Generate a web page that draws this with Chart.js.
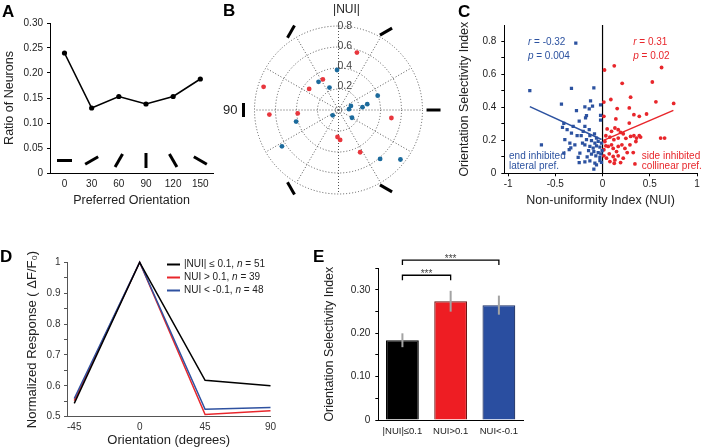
<!DOCTYPE html>
<html>
<head>
<meta charset="utf-8">
<script src="https://cdn.jsdelivr.net/npm/chart.js@4.4.1/dist/chart.umd.min.js"></script>
<style>
  body { margin: 0; background: #fff; }
  #fig { position: relative; width: 702px; height: 448px; overflow: hidden; font-family: "Liberation Sans", Arial, sans-serif; }
  .panel { position: absolute; }
  .tag { position: absolute; font-weight: bold; font-size: 17px; line-height: 17px; color: #000; }
</style>
</head>
<body>
<div id="fig">
  <canvas id="chartA" class="panel" width="225" height="215" style="left:0;top:0"></canvas>
  <canvas id="chartB" class="panel" width="260" height="220" style="left:200px;top:0"></canvas>
  <canvas id="chartC" class="panel" width="247" height="215" style="left:455px;top:0"></canvas>
  <canvas id="chartD" class="panel" width="320" height="208" style="left:0;top:240px"></canvas>
  <canvas id="chartE" class="panel" width="220" height="208" style="left:320px;top:240px"></canvas>
  <div class="tag" style="left:2px;top:3px">A</div>
  <div class="tag" style="left:223px;top:2px">B</div>
  <div class="tag" style="left:458px;top:3px">C</div>
  <div class="tag" style="left:0;top:248px">D</div>
  <div class="tag" style="left:313px;top:248px">E</div>
</div>
<script>
// ---- data ----
// A: distribution of preferred orientation
const orientations = [0, 30, 60, 90, 120, 150];
const ratioNeurons = [0.24, 0.13, 0.153, 0.138, 0.153, 0.188];
const ratioTicks = [0, 0.05, 0.10, 0.15, 0.20, 0.25, 0.30];

// B: |NUI| vs. polar angle (2 x preferred orientation)
const ringValues = [0.2, 0.4, 0.6, 0.8];
const spokeAngles = [0, 30, 60, 90, 120, 150, 180, 210, 240, 270, 300, 330];
const bRedAngle = [73, 116, 143, 162, 184, 185, 268, 273, 296, 351];
const bRedNui = [0.60, 0.34, 0.35, 0.75, 0.66, 0.39, 0.27, 0.30, 0.47, 0.51];
const bBlueAngle = [92, 124, 111, 21, 12, 7, 19, 5, 329, 224, 196, 214, 309, 320];
const bBlueNui = [0.40, 0.34, 0.24, 0.40, 0.28, 0.23, 0.125, 0.10, 0.15, 0.077, 0.42, 0.65, 0.63, 0.77];

// C: OSI vs NUI  [NUI, OSI]
const endInhibited = [
  [-0.283, 0.790], [-0.770, 0.501], [-0.329, 0.515], [-0.092, 0.519], [-0.435, 0.420], [-0.647, 0.173],
  [-0.276, 0.381], [-0.187, 0.403], [-0.127, 0.440], [-0.106, 0.407], [-0.141, 0.391], [-0.021, 0.415],
  [-0.170, 0.350], [-0.180, 0.336], [-0.021, 0.352], [-0.021, 0.322], [-0.247, 0.316], [-0.410, 0.303],
  [-0.424, 0.279], [-0.375, 0.265], [-0.329, 0.244], [-0.269, 0.228], [-0.226, 0.228], [-0.205, 0.255],
  [-0.141, 0.265], [-0.399, 0.204], [-0.134, 0.228], [-0.085, 0.240], [-0.064, 0.214], [-0.117, 0.198],
  [-0.081, 0.183], [-0.046, 0.193], [-0.170, 0.204], [-0.187, 0.173], [-0.134, 0.163], [-0.099, 0.153],
  [-0.064, 0.167], [-0.028, 0.159], [-0.011, 0.183], [-0.148, 0.138], [-0.092, 0.132], [-0.046, 0.126],
  [-0.018, 0.118], [-0.071, 0.106], [-0.117, 0.116], [-0.028, 0.096], [-0.005, 0.138], [-0.353, 0.143],
  [-0.336, 0.155], [-0.410, 0.122], [-0.240, 0.122], [-0.258, 0.096], [-0.163, 0.100], [-0.247, 0.065],
  [-0.187, 0.069], [-0.134, 0.075], [-0.081, 0.061], [-0.064, 0.051], [-0.092, 0.026], [-0.028, 0.077],
  [-0.011, 0.067], [-0.346, 0.183], [-0.293, 0.173], [-0.212, 0.183], [-0.187, 0.285], [-0.311, 0.285]
];
const sideInhibited = [
  [0.021, 0.627], [0.124, 0.652], [0.625, 0.642], [0.208, 0.546], [0.527, 0.554], [0.014, 0.432],
  [0.088, 0.448], [0.297, 0.462], [0.155, 0.393], [0.283, 0.397], [0.565, 0.434], [0.753, 0.424],
  [0.014, 0.346], [0.141, 0.330], [0.332, 0.356], [0.389, 0.346], [0.466, 0.360], [0.283, 0.305],
  [0.049, 0.269], [0.095, 0.255], [0.131, 0.275], [0.166, 0.265], [0.191, 0.248], [0.219, 0.240],
  [0.297, 0.224], [0.332, 0.228], [0.360, 0.214], [0.389, 0.228], [0.403, 0.220], [0.353, 0.193],
  [0.247, 0.212], [0.615, 0.214], [0.657, 0.214], [0.035, 0.228], [0.078, 0.220], [0.120, 0.204],
  [0.166, 0.214], [0.025, 0.193], [0.060, 0.163], [0.113, 0.151], [0.166, 0.163], [0.148, 0.132],
  [0.014, 0.143], [0.035, 0.167], [0.290, 0.173], [0.237, 0.151], [0.325, 0.126], [0.205, 0.173],
  [0.071, 0.118], [0.113, 0.102], [0.131, 0.081], [0.166, 0.106], [0.078, 0.071], [0.124, 0.061],
  [0.042, 0.092], [0.014, 0.106], [0.343, 0.057], [0.219, 0.092], [0.261, 0.126], [0.191, 0.065],
  [0.095, 0.173]
];
const endFit = [[-0.77, 0.405], [-0.01, 0.205]];
const sideFit = [[0.01, 0.200], [0.75, 0.382]];
const nuiTicks = [-1, -0.5, 0, 0.5, 1];
const osiTicksC = [0, 0.1, 0.2, 0.3, 0.4, 0.5, 0.6, 0.7, 0.8];

// D: normalized tuning curves
const dAngles = [-45, 0, 45, 90];
const respFlat = [0.543, 1.0, 0.618, 0.600];
const respPos = [0.552, 1.0, 0.507, 0.519];
const respNeg = [0.559, 1.0, 0.524, 0.530];
const respTicks = [0.5, 0.55, 0.6, 0.65, 0.7, 0.75, 0.8, 0.85, 0.9, 0.95, 1];
const groupLabels = ['|NUI| \u2264 0.1, ', 'NUI > 0.1, ', 'NUI < -0.1, '];
const groupN = [51, 39, 48];

// E: mean OSI per group
const eLabels = ['|NUI|\u22640.1', 'NUI>0.1', 'NUI<-0.1'];
const osiMean = [0.184, 0.274, 0.265];
const osiSem = [0.016, 0.024, 0.022];
const osiTicksE = [0, 0.05, 0.1, 0.15, 0.2, 0.25, 0.3, 0.35];
const sigPairs = [[0, 1, 0.334], [0, 2, 0.369]];
const sigLabels = ['***', '***'];

// ---- look ----
const FONT = '"Liberation Sans", Arial, Helvetica, sans-serif';
const RED = '#e8262b', BLUE = '#2c52a0';
const glyphLevel = 0.025;   // y of the orientation bars in A
const glyphRadius = 0.905;  // radius of the orientation bars in B

Chart.defaults.font.family = FONT;
Chart.defaults.font.size = 10;
Chart.defaults.color = '#222';
Chart.defaults.animation = false;
Chart.defaults.responsive = false;
Chart.defaults.plugins.legend.display = false;
Chart.defaults.plugins.tooltip.enabled = false;

const fitW = w => s => { s.width = w; };
const fitH = h => s => { s.height = h; };
const setTicks = vals => s => { s.ticks = vals.map(v => ({ value: v })); };
const xy = (xs, ys) => xs.map((v, i) => ({ x: v, y: ys[i] }));
const pairs = arr => arr.map(p => ({ x: p[0], y: p[1] }));
const polar = (angles, radii) => angles.map((a, i) => ({
  x: radii[i] * Math.cos(a * Math.PI / 180),
  y: radii[i] * Math.sin(a * Math.PI / 180)
}));

function richText(ctx, parts, x, y, size, color) {
  ctx.save();
  ctx.fillStyle = color;
  ctx.textBaseline = 'middle';
  ctx.textAlign = 'left';
  parts.forEach(([t, italic]) => {
    ctx.font = (italic ? 'italic ' : '') + size + 'px ' + FONT;
    ctx.fillText(t, x, y);
    x += ctx.measureText(t).width;
  });
  ctx.restore();
}

// ---- A ----
new Chart(document.getElementById('chartA'), {
  type: 'scatter',
  data: {
    datasets: [{
      data: xy(orientations, ratioNeurons),
      showLine: true, borderColor: '#000', borderWidth: 1.6,
      pointRadius: 2.6, pointBackgroundColor: '#000', pointBorderWidth: 0
    }, {
      data: orientations.map(o => ({ x: o, y: glyphLevel })),
      pointStyle: 'line', pointRadius: 7.5, pointBorderWidth: 3, pointBorderColor: '#000',
      pointRotation: orientations.map(o => -o), clip: false
    }]
  },
  options: {
    layout: { padding: { top: 23, right: 12 } },
    scales: {
      x: {
        type: 'linear', min: -16, max: 164,
        afterBuildTicks: setTicks(orientations), afterFit: fitH(42),
        grid: { display: false, drawTicks: false }, border: { color: '#000' },
        ticks: { padding: 5 },
        title: { display: true, text: 'Preferred Orientation', font: { size: 12.5 }, padding: { top: 0, bottom: 7 } }
      },
      y: {
        min: 0, max: 0.3,
        afterBuildTicks: setTicks(ratioTicks), afterFit: fitW(50),
        grid: { drawOnChartArea: false, tickLength: 3, color: '#000' }, border: { color: '#000' },
        ticks: { padding: 4, callback: v => v === 0 ? '0' : v.toFixed(2) },
        title: { display: true, text: 'Ratio of Neurons', font: { size: 12.5 }, padding: { top: 2, bottom: 0 } }
      }
    }
  }
});

// ---- B ----
const polarGrid = {
  id: 'polarGrid',
  beforeDatasetsDraw(chart) {
    const { ctx, scales: { x, y } } = chart;
    const cx = x.getPixelForValue(0), cy = y.getPixelForValue(0);
    const rpx = v => x.getPixelForValue(v) - cx;
    ctx.save();
    ctx.strokeStyle = '#555';
    ctx.lineWidth = 1;
    ctx.setLineDash([1, 2]);
    [0.03].concat(ringValues).forEach(r => {
      ctx.beginPath();
      ctx.arc(cx, cy, rpx(r), 0, Math.PI * 2);
      ctx.stroke();
    });
    const outer = rpx(ringValues[ringValues.length - 1]);
    spokeAngles.forEach(a => {
      const t = a * Math.PI / 180;
      ctx.beginPath();
      ctx.moveTo(cx, cy);
      ctx.lineTo(cx + outer * Math.cos(t), cy - outer * Math.sin(t));
      ctx.stroke();
    });
    ctx.restore();
  },
  afterDatasetsDraw(chart) {
    const { ctx, scales: { x, y } } = chart;
    const cx = x.getPixelForValue(0), cy = y.getPixelForValue(0);
    ctx.save();
    ctx.fillStyle = '#444';
    ctx.font = '10.5px ' + FONT;
    ctx.textAlign = 'left';
    ctx.textBaseline = 'middle';
    ringValues.forEach(r => ctx.fillText(r.toFixed(1), cx - 1, y.getPixelForValue(r) - 3.5));
    ctx.fillStyle = '#222';
    ctx.font = '12px ' + FONT;
    ctx.textAlign = 'center';
    ctx.fillText('|NUI|', cx + 8, 10);
    ctx.font = '13px ' + FONT;
    ctx.textAlign = 'right';
    ctx.fillText('90', x.getPixelForValue(-glyphRadius) - 6, cy);
    ctx.restore();
  }
};

new Chart(document.getElementById('chartB'), {
  type: 'scatter',
  data: {
    datasets: [{
      data: polar(bRedAngle, bRedNui),
      pointRadius: 2.4, pointBackgroundColor: '#e8363d', pointBorderWidth: 0
    }, {
      data: polar(bBlueAngle, bBlueNui),
      pointRadius: 2.4, pointBackgroundColor: '#1b6a9c', pointBorderWidth: 0
    }, {
      data: polar(orientations.map(o => 2 * o), orientations.map(() => glyphRadius)),
      pointStyle: 'line', pointRadius: 7, pointBorderWidth: 3, pointBorderColor: '#000',
      pointRotation: orientations.map(o => -o), clip: false
    }]
  },
  options: {
    layout: { padding: { left: 33.5, right: 16.5, top: 4, bottom: 6 } },
    scales: {
      x: { display: false, min: -1, max: 1 },
      y: { display: false, min: -1, max: 1 }
    }
  },
  plugins: [polarGrid]
});

// ---- C ----
const zeroLineC = {
  id: 'zeroLineC',
  beforeDatasetsDraw(chart) {
    const { ctx, chartArea, scales: { x } } = chart;
    const px = x.getPixelForValue(0);
    ctx.save();
    ctx.strokeStyle = '#000';
    ctx.lineWidth = 1.2;
    ctx.beginPath();
    ctx.moveTo(px, chartArea.top);
    ctx.lineTo(px, chartArea.bottom);
    ctx.stroke();
    ctx.restore();
  }
};
const notesC = {
  id: 'notesC',
  afterDatasetsDraw(chart) {
    const { ctx, scales: { x, y } } = chart;
    const put = (parts, vx, vy, color) => richText(ctx, parts, x.getPixelForValue(vx), y.getPixelForValue(vy), 10, color);
    put([['r', true], [' = -0.32']], -0.79, 0.795, BLUE);
    put([['p', true], [' = 0.004']], -0.79, 0.713, BLUE);
    put([['r', true], [' = 0.31']], 0.325, 0.795, RED);
    put([['p', true], [' = 0.02']], 0.325, 0.713, RED);
    put([['end inhibited']], -0.99, 0.106, BLUE);
    put([['lateral pref.']], -0.99, 0.040, BLUE);
    put([['side inhibited']], 0.416, 0.106, RED);
    put([['collinear pref.']], 0.416, 0.040, RED);
  }
};

new Chart(document.getElementById('chartC'), {
  type: 'scatter',
  data: {
    datasets: [{
      data: pairs(endInhibited),
      pointStyle: 'rect', pointRadius: 2.3, pointBackgroundColor: BLUE, pointBorderWidth: 0
    }, {
      data: pairs(sideInhibited),
      pointStyle: 'circle', pointRadius: 1.9, pointBackgroundColor: RED, pointBorderWidth: 0
    }, {
      data: pairs(endFit), showLine: true, borderColor: BLUE, borderWidth: 1.5, pointRadius: 0
    }, {
      data: pairs(sideFit), showLine: true, borderColor: RED, borderWidth: 1.5, pointRadius: 0
    }]
  },
  options: {
    layout: { padding: { top: 25, right: 5 } },
    scales: {
      x: {
        type: 'linear', min: -1.04, max: 1,
        afterBuildTicks: setTicks(nuiTicks), afterFit: fitH(41.7),
        grid: { drawOnChartArea: false, tickLength: 3, color: '#000' }, border: { color: '#000' },
        ticks: { padding: 2, callback: v => String(v) },
        title: { display: true, text: 'Non-uniformity Index (NUI)', font: { size: 12.5 }, padding: { top: 0, bottom: 7 } }
      },
      y: {
        min: 0, max: 0.9,
        afterBuildTicks: setTicks(osiTicksC), afterFit: fitW(49.3),
        grid: { drawOnChartArea: false, tickLength: 3, color: '#000' }, border: { color: '#000' },
        ticks: { padding: 5, callback: (v, i) => i % 2 ? '' : (v === 0 ? '0' : v.toFixed(1)) },
        title: { display: true, text: 'Orientation Selectivity Index', font: { size: 12.5 }, padding: { top: 2.5, bottom: 0 } }
      }
    }
  },
  plugins: [zeroLineC, notesC]
});

// ---- D ----
const dColors = ['#000', RED, '#2e51a0'];
const legendD = {
  id: 'legendD',
  afterDraw(chart) {
    const { ctx } = chart;
    groupLabels.forEach((label, i) => {
      const yy = 24.5 + i * 13;
      ctx.save();
      ctx.strokeStyle = dColors[i];
      ctx.lineWidth = 2;
      ctx.beginPath();
      ctx.moveTo(167, yy);
      ctx.lineTo(180, yy);
      ctx.stroke();
      ctx.restore();
      richText(ctx, [[label], ['n', true], [' = ' + groupN[i]]], 184, yy, 10, '#222');
    });
  }
};

new Chart(document.getElementById('chartD'), {
  type: 'line',
  data: {
    datasets: [
      { data: xy(dAngles, respFlat), borderColor: dColors[0], borderWidth: 1.5, pointRadius: 0, clip: false },
      { data: xy(dAngles, respNeg), borderColor: dColors[2], borderWidth: 1.5, pointRadius: 0, clip: false },
      { data: xy(dAngles, respPos), borderColor: dColors[1], borderWidth: 1.5, pointRadius: 0, clip: false }
    ]
  },
  options: {
    layout: { padding: { top: 22.3, right: 49.5 } },
    scales: {
      x: {
        type: 'linear', min: -50, max: 90,
        afterBuildTicks: setTicks(dAngles), afterFit: fitH(31.3),
        grid: { display: false, drawTicks: false }, border: { color: '#555' },
        ticks: { padding: 5, color: '#333' },
        title: { display: true, text: 'Orientation (degrees)', font: { size: 13 }, padding: { top: 0, bottom: 0 } }
      },
      y: {
        min: 0.5, max: 1,
        afterBuildTicks: setTicks(respTicks), afterFit: fitW(67),
        grid: { drawOnChartArea: false, tickLength: 3, color: '#555' }, border: { color: '#555' },
        ticks: { padding: 3.5, color: '#333', callback: (v, i) => i % 2 ? '' : (v === 1 ? '1' : v.toFixed(1)) },
        title: { display: true, text: 'Normalized Response ( \u0394F/F\u2080)', font: { size: 13 }, padding: { top: 25, bottom: 0 } }
      }
    }
  },
  plugins: [legendD]
});

// ---- E ----
const errorBarsE = {
  id: 'errorBarsE',
  afterDatasetsDraw(chart) {
    const { ctx, scales: { x, y } } = chart;
    ctx.save();
    ctx.strokeStyle = '#a3a3a3';
    ctx.lineWidth = 2;
    osiMean.forEach((m, i) => {
      const px = x.getPixelForValue(i);
      ctx.beginPath();
      ctx.moveTo(px, y.getPixelForValue(m - osiSem[i]));
      ctx.lineTo(px, y.getPixelForValue(m + osiSem[i]));
      ctx.stroke();
    });
    ctx.restore();
  }
};
const bracketsE = {
  id: 'bracketsE',
  afterDraw(chart) {
    const { ctx, scales: { x, y } } = chart;
    ctx.save();
    sigPairs.forEach(([a, b, level], i) => {
      const x1 = x.getPixelForValue(a), x2 = x.getPixelForValue(b), yy = y.getPixelForValue(level);
      ctx.strokeStyle = '#000';
      ctx.lineWidth = 1.3;
      ctx.beginPath();
      ctx.moveTo(x1, yy + 5);
      ctx.lineTo(x1, yy);
      ctx.lineTo(x2, yy);
      ctx.lineTo(x2, yy + 5);
      ctx.stroke();
      ctx.fillStyle = '#444';
      ctx.font = '10px ' + FONT;
      ctx.textAlign = 'center';
      ctx.textBaseline = 'alphabetic';
      ctx.fillText(sigLabels[i], (x1 + x2) / 2, yy + 1.5);
    });
    ctx.restore();
  }
};

new Chart(document.getElementById('chartE'), {
  type: 'bar',
  data: {
    labels: eLabels,
    datasets: [{
      data: osiMean,
      backgroundColor: ['#000', '#ee1d23', '#2a4ea0'],
      borderColor: ['#000', '#6b1515', '#1c2f63'],
      borderWidth: 1.2,
      barPercentage: 0.68,
      categoryPercentage: 1
    }]
  },
  options: {
    layout: { padding: { top: 28.3, right: 17 } },
    scales: {
      x: {
        afterFit: fitH(28),
        grid: { display: false, drawTicks: false }, border: { color: '#000' },
        ticks: { padding: 6, font: { size: 9.5 } }
      },
      y: {
        min: 0, max: 0.35,
        afterBuildTicks: setTicks(osiTicksE), afterFit: fitW(58.3),
        grid: { drawOnChartArea: false, tickLength: 3, color: '#000' }, border: { color: '#000' },
        ticks: { padding: 5, callback: (v, i) => i % 2 ? '' : (v === 0 ? '0' : v.toFixed(2)) },
        title: { display: true, text: 'Orientation Selectivity Index', font: { size: 12.5 }, padding: { top: 2.5, bottom: 0 } }
      }
    }
  },
  plugins: [errorBarsE, bracketsE]
});
</script>
</body>
</html>
